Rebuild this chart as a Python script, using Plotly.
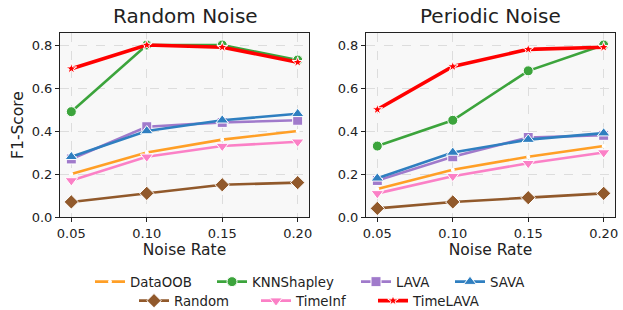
import plotly.graph_objects as go

noise_rates = [0.05, 0.10, 0.15, 0.20]
tick_labels = ["0.05", "0.10", "0.15", "0.20"]
methods = ["DataOOB", "KNNShapley", "LAVA", "SAVA", "Random", "TimeInf", "TimeLAVA"]

random_noise = {
    "DataOOB":    [0.20, 0.30, 0.36, 0.40],
    "KNNShapley": [0.49, 0.80, 0.80, 0.73],
    "LAVA":       [0.27, 0.42, 0.44, 0.45],
    "SAVA":       [0.28, 0.40, 0.45, 0.48],
    "Random":     [0.07, 0.11, 0.15, 0.16],
    "TimeInf":    [0.17, 0.28, 0.33, 0.35],
    "TimeLAVA":   [0.69, 0.80, 0.79, 0.72],
}
periodic_noise = {
    "DataOOB":    [0.13, 0.22, 0.28, 0.33],
    "KNNShapley": [0.33, 0.45, 0.68, 0.80],
    "LAVA":       [0.17, 0.28, 0.37, 0.38],
    "SAVA":       [0.18, 0.30, 0.36, 0.39],
    "Random":     [0.04, 0.07, 0.09, 0.11],
    "TimeInf":    [0.11, 0.19, 0.25, 0.30],
    "TimeLAVA":   [0.50, 0.70, 0.78, 0.79],
}

styles = {
    "DataOOB":    dict(color="#ff9f26", symbol="circle", size=4, mcolor="white", width=2.6),
    "KNNShapley": dict(color="#3ca43c", symbol="circle", size=10, mcolor=None, width=2.6),
    "LAVA":       dict(color="#a07acb", symbol="square", size=10, mcolor=None, width=2.6),
    "SAVA":       dict(color="#2f7fc0", symbol="triangle-up", size=11, mcolor=None, width=2.6),
    "Random":     dict(color="#91592b", symbol="diamond", size=11, mcolor=None, width=2.6),
    "TimeInf":    dict(color="#fb80c6", symbol="triangle-down", size=11, mcolor=None, width=2.6),
    "TimeLAVA":   dict(color="#ff0000", symbol="star", size=8, mcolor=None, width=3.6),
}

# legend placement (handle left edge in px, row center y in px)
legend_pos = {
    "DataOOB": (97, 282), "KNNShapley": (219, 282), "LAVA": (363, 282), "SAVA": (457, 282),
    "Random": (141, 301), "TimeInf": (263, 301), "TimeLAVA": (380, 301),
}

W, H = 623, 310
fig = go.Figure()
panels = [(random_noise, "x", "y"), (periodic_noise, "x2", "y2")]
for pi, (data, xa, ya) in enumerate(panels):
    for i, m in enumerate(methods):
        s = styles[m]
        fig.add_trace(go.Scatter(
            x=noise_rates, y=data[m], mode="lines+markers", name=m,
            xaxis=xa, yaxis=ya,
            line=dict(color=s["color"], width=s["width"]),
            marker=dict(symbol=s["symbol"], size=s["size"],
                        color=s["mcolor"] or s["color"],
                        line=dict(color="white", width=1 if m != "DataOOB" else 0)),
            showlegend=(pi == 0),
            legend="legend" if i == 0 else f"legend{i + 1}",
        ))

axis_common = dict(
    range=[0.0425, 0.2075], tickvals=noise_rates, ticktext=tick_labels,
    showgrid=True, gridcolor="#dddddd", griddash="dash", gridwidth=1,
    showline=True, linecolor="#222222", linewidth=1, mirror=True,
    ticks="outside", ticklen=4, tickcolor="#222222", ticklabeloverflow="allow",
    automargin=False,
    tickfont=dict(size=13, color="#222222"), zeroline=False,
    title=dict(text="Noise Rate", font=dict(size=15.5, color="#222222"), standoff=4),
)
yaxis_common = dict(
    range=[0, 0.856], tickvals=[0, 0.2, 0.4, 0.6, 0.8],
    ticktext=["0.0", "0.2", "0.4", "0.6", "0.8"],
    showgrid=True, gridcolor="#dddddd", griddash="dash", gridwidth=1,
    showline=True, linecolor="#222222", linewidth=1, mirror=True,
    ticks="outside", ticklen=4, tickcolor="#222222", ticklabeloverflow="allow",
    automargin=False,
    tickfont=dict(size=13, color="#222222"), zeroline=False,
)

legends = {}
for i, m in enumerate(methods):
    hx, hy = legend_pos[m]
    key = "legend" if i == 0 else f"legend{i + 1}"
    legends[key] = dict(
        orientation="h", xref="container", yref="container",
        x=(hx - 7) / W, xanchor="left", y=1 - hy / H, yanchor="middle",
        font=dict(size=13.3, color="#222222"), bgcolor="rgba(0,0,0,0)", borderwidth=0,
        itemwidth=30, tracegroupgap=0,
    )

y0, y1 = 1 - 217 / H, 1 - 33 / H
fig.update_layout(
    width=W, height=H,
    margin=dict(l=0, r=0, t=0, b=0, autoexpand=False),
    paper_bgcolor="white", plot_bgcolor="#f8f8f8",
    font=dict(family="DejaVu Sans", color="#222222"),
    xaxis=dict(domain=[60 / W, 309 / W], anchor="y", **axis_common),
    xaxis2=dict(domain=[366 / W, 615 / W], anchor="y2", **axis_common),
    yaxis=dict(domain=[y0, y1], anchor="x",
               title=dict(text="F1-Score", font=dict(size=15.5, color="#222222"), standoff=4),
               **yaxis_common),
    yaxis2=dict(domain=[y0, y1], anchor="x2", **yaxis_common),
    annotations=[
        dict(text="Random Noise", x=185 / W, y=1 - 16 / H, xref="paper", yref="paper",
             showarrow=False, font=dict(size=20, color="#222222"), xanchor="center", yanchor="middle"),
        dict(text="Periodic Noise", x=490 / W, y=1 - 16 / H, xref="paper", yref="paper",
             showarrow=False, font=dict(size=20, color="#222222"), xanchor="center", yanchor="middle"),
    ],
    **legends,
)

fig.write_html("out.html", config={"displayModeBar": False},
               post_script="document.body.style.margin='0';document.body.style.overflow='hidden';")
